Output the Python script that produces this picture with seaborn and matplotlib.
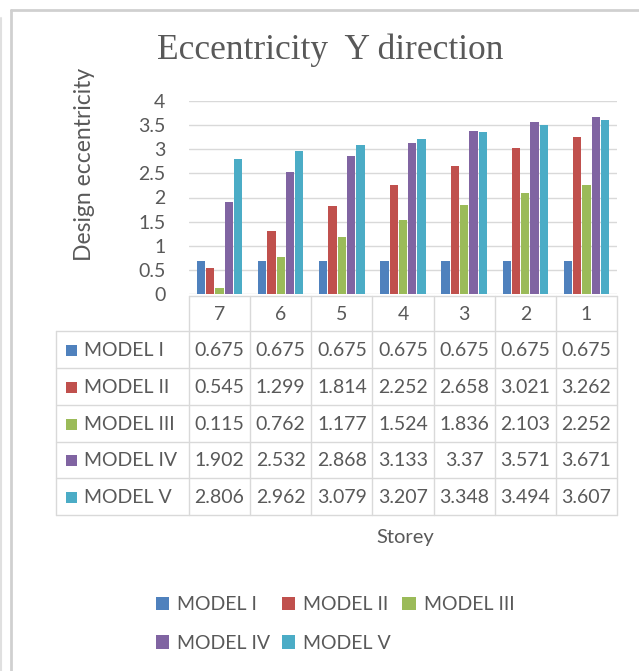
import numpy as np
import pandas as pd
import matplotlib
matplotlib.use("Agg")
import matplotlib.pyplot as plt
from matplotlib.patches import Patch, Rectangle
from matplotlib.ticker import FuncFormatter
import seaborn as sns

storeys = ["7", "6", "5", "4", "3", "2", "1"]
models = ["MODEL I", "MODEL II", "MODEL III", "MODEL IV", "MODEL V"]
model_1 = [0.675, 0.675, 0.675, 0.675, 0.675, 0.675, 0.675]
model_2 = [0.545, 1.299, 1.814, 2.252, 2.658, 3.021, 3.262]
model_3 = [0.115, 0.762, 1.177, 1.524, 1.836, 2.103, 2.252]
model_4 = [1.902, 2.532, 2.868, 3.133, 3.37, 3.571, 3.671]
model_5 = [2.806, 2.962, 3.079, 3.207, 3.348, 3.494, 3.607]
colors = ["#4F81BD", "#C0504D", "#9BBB59", "#8064A2", "#4BACC6"]

series = [model_1, model_2, model_3, model_4, model_5]
rows = []
for m, vals in zip(models, series):
    for s, v in zip(storeys, vals):
        rows.append({"Storey": s, "Model": m, "value": v})
df = pd.DataFrame(rows)

sns.set_style("white")
plt.rcParams["font.family"] = ["Lato", "DejaVu Sans"]
txt = "#595959"
grid = "#D9D9D9"
fs = 14

W, H = 639, 671
fig = plt.figure(figsize=(W / 100, H / 100), dpi=100)

# overlay axes in pixel coordinates for frame and data table
ov = fig.add_axes([0, 0, 1, 1])
ov.set_xlim(0, W)
ov.set_ylim(H, 0)
ov.axis("off")

# frame lines
ov.plot([11, 11], [10, H], color="#D0D0D0", lw=2)
ov.plot([11, W], [10, 10], color="#D0D0D0", lw=2)
ov.plot([1, 1], [18, H], color="#E0E0E0", lw=1.5)

# plot area
left, right, top, bottom = 189, 617, 101, 294
ax = fig.add_axes([left / W, 1 - bottom / H, (right - left) / W, (bottom - top) / H])
sns.barplot(data=df, x="Storey", y="value", hue="Model", order=storeys,
            hue_order=models, palette=colors, width=0.76, gap=0.1,
            linewidth=0, saturation=1, legend=False, ax=ax)
ax.set_ylim(0, 4)
ax.set_yticks(np.arange(0, 4.01, 0.5))
ax.yaxis.set_major_formatter(FuncFormatter(lambda v, p: "%g" % v))
ax.yaxis.grid(True, color=grid, lw=1)
ax.set_axisbelow(True)
for sp in ax.spines.values():
    sp.set_visible(False)
ax.tick_params(axis="y", length=0, pad=17, labelsize=fs, labelcolor=txt)
ax.set_xticks([])
ax.set_xlabel("")
ax.set_ylabel("Design eccentricity", fontsize=16.5, color=txt)
ax.yaxis.set_label_coords(-0.22, 0.67)
ax.patch.set_alpha(0)

fig.text(330 / W, 1 - 50 / H, "Eccentricity  Y direction", ha="center", va="center",
         fontsize=25.5, color=txt, family="Liberation Serif")

# data table
col_w = (right - left) / len(storeys)
row_y = [296, 331, 368, 405, 442, 478, 515]
tab_left = 56
ov.plot([left, right], [row_y[0], row_y[0]], color=grid, lw=1)
for y in row_y[1:]:
    ov.plot([tab_left, right], [y, y], color=grid, lw=1)
ov.plot([tab_left, tab_left], [row_y[1], row_y[-1]], color=grid, lw=1)
for k in range(len(storeys) + 1):
    x = left + k * col_w
    ov.plot([x, x], [row_y[0], row_y[-1]], color=grid, lw=1)
for k, s in enumerate(storeys):
    ov.text(left + (k + 0.5) * col_w, (row_y[0] + row_y[1]) / 2 + 1, s,
            ha="center", va="center", fontsize=fs, color=txt)
for i, (m, vals, c) in enumerate(zip(models, series, colors)):
    yc = (row_y[i + 1] + row_y[i + 2]) / 2
    ov.add_patch(Rectangle((66, yc - 5), 11, 11, color=c, lw=0))
    ov.text(84, yc + 1, m, ha="left", va="center", fontsize=fs, color=txt)
    for k, v in enumerate(vals):
        ov.text(left + (k + 0.5) * col_w, yc + 1, "%g" % v, ha="center",
                va="center", fontsize=fs, color=txt)

fig.text(405 / W, 1 - 537 / H, "Storey", ha="center", va="center",
         fontsize=14.5, color=txt)

# legend filled row by row: I II III / IV V
handles = [Patch(facecolor=c, edgecolor="none", label=m) for m, c in zip(models, colors)]
order = [0, 3, 1, 4, 2]
leg = fig.legend(handles=[handles[i] for i in order], loc="center",
                 bbox_to_anchor=(335 / W, 1 - 624 / H),
                 ncol=3, frameon=False, fontsize=fs, handlelength=0.7,
                 handleheight=0.7, handletextpad=0.4, columnspacing=0.6,
                 labelspacing=1.1)
for t in leg.get_texts():
    t.set_color(txt)

fig.savefig("out.png", dpi=100)
